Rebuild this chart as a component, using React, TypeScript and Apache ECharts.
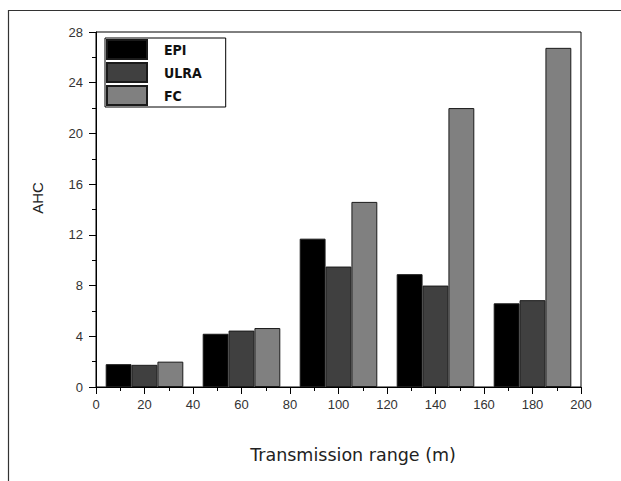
import React, { useEffect, useRef } from "react";
import * as echarts from "echarts";

const categories = ["20", "60", "100", "140", "180"];
const epi = [1.8, 4.2, 11.7, 8.9, 6.6];
const ulra = [1.75, 4.45, 9.5, 8.0, 6.85];
const fc = [2.0, 4.65, 14.6, 22.0, 26.75];
const seriesNames = ["EPI", "ULRA", "FC"];
const colors = ["#000000", "#404040", "#808080"];
const xTitle = "Transmission range (m)";
const yTitle = "AHC";

export default function App() {
  const ref = useRef<HTMLDivElement>(null);
  useEffect(() => {
    if (!ref.current) return;
    const chart = echarts.init(ref.current, null, { renderer: "svg" });
    const tickLabel = { fontFamily: "Liberation Sans, Arial, sans-serif", fontSize: 13, color: "#333" };
    const data = [epi, ulra, fc];
    chart.setOption({
      animation: false,
      backgroundColor: "#ffffff",
      grid: { left: 96, right: 40, top: 32, bottom: 94, show: true, borderColor: "#000", borderWidth: 1, backgroundColor: "transparent" },
      legend: {
        data: seriesNames,
        orient: "vertical",
        left: 105,
        top: 38,
        itemWidth: 40,
        itemHeight: 19,
        itemGap: 2,
        icon: "rect",
        borderColor: "#000",
        borderWidth: 1,
        backgroundColor: "#fff",
        padding: [1, 24, 1, 1],
        textStyle: {
          fontFamily: "DejaVu Sans Condensed, Liberation Sans, sans-serif",
          fontWeight: "bold",
          fontSize: 14,
          color: "#111",
          padding: [0, 0, 0, 12],
        },
      },
      xAxis: [
        { type: "category", data: categories, position: "top", show: false, boundaryGap: true },
        {
          type: "value", min: 0, max: 200, interval: 20, position: "bottom",
          axisLine: { show: true, lineStyle: { color: "#000", width: 1 } },
          axisTick: { show: true, inside: false, length: 7, lineStyle: { color: "#000" } },
          minorTick: { show: true, splitNumber: 2, length: 4, lineStyle: { color: "#000" } },
          splitLine: { show: false },
          axisLabel: { ...tickLabel, margin: 11 },
        },
      ],
      yAxis: {
        type: "value", min: 0, max: 28, interval: 4,
        axisLine: { show: true, lineStyle: { color: "#000", width: 1 } },
        axisTick: { show: true, inside: false, length: 7, lineStyle: { color: "#000" } },
        minorTick: { show: true, splitNumber: 2, length: 4, lineStyle: { color: "#000" } },
        splitLine: { show: false },
        axisLabel: { ...tickLabel, margin: 13 },
      },
      series: seriesNames.map((name, i) => ({
        name,
        type: "bar",
        xAxisIndex: 0,
        data: data[i],
        barGap: "0%",
        barCategoryGap: "20%",
        itemStyle: { color: colors[i], borderColor: "#1a1a1a", borderWidth: 1 },
      })),
      graphic: [
        { type: "line", shape: { x1: 8, y1: 10.5, x2: 621, y2: 10.5 }, style: { stroke: "#333", lineWidth: 1.2 } },
        { type: "line", shape: { x1: 8.5, y1: 10, x2: 8.5, y2: 481 }, style: { stroke: "#333", lineWidth: 1.2 } },
        {
          type: "text", x: 353, y: 455,
          style: { text: xTitle, fontFamily: "DejaVu Sans", fontSize: 17.5, fill: "#222", align: "center", verticalAlign: "middle" },
        },
        {
          type: "text", x: 37, y: 198, rotation: Math.PI / 2,
          style: { text: yTitle, fontFamily: "Liberation Sans, Arial, sans-serif", fontSize: 15, fill: "#222", align: "center", verticalAlign: "middle" },
        },
      ],
    });
    return () => chart.dispose();
  }, []);
  return <div ref={ref} style={{ position: "fixed", left: 0, top: 0, width: 621, height: 481 }} />;
}
